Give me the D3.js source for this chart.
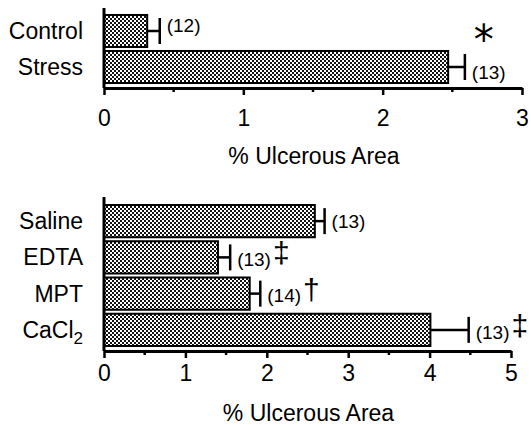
<!DOCTYPE html>
<html>
<head>
<meta charset="utf-8">
<script src="https://cdn.jsdelivr.net/npm/d3@7"></script>
<style>
  body { margin: 0; background: #fff; }
  svg { display: block; font-family: "Liberation Sans", Arial, sans-serif; }
</style>
</head>
<body>
<svg id="chart" width="531" height="425"></svg>
<script>
// top panel
var topCats = ['Control', 'Stress'];
var topMeans = [0.31, 2.47];
var topUpper = [0.40, 2.59];
var topN = ['(12)', '(13)'];
var topSig = ['', '*'];
var topTicks = [0, 1, 2, 3];

// bottom panel
var botCats = ['Saline', 'EDTA', 'MPT', 'CaCl2'];
var botMeans = [2.59, 1.40, 1.79, 4.01];
var botUpper = [2.71, 1.55, 1.92, 4.48];
var botN = ['(13)', '(13)', '(14)', '(13)'];
var botSig = ['', '\u2021', '\u2020', '\u2021'];
var botTicks = [0, 1, 2, 3, 4, 5];

var svg = d3.select('#chart');

// checker fill
var pat = svg.append('defs').append('pattern')
  .attr('id', 'checks')
  .attr('patternUnits', 'userSpaceOnUse')
  .attr('width', 4).attr('height', 4);
pat.append('rect').attr('width', 4).attr('height', 4).attr('fill', '#fff');
pat.append('rect').attr('width', 2).attr('height', 2).attr('fill', '#111');
pat.append('rect').attr('x', 2).attr('y', 2).attr('width', 2).attr('height', 2).attr('fill', '#111');

function panel(opt) {
  var x = d3.scaleLinear().domain(opt.domain).range([104, opt.right]);
  var y = d3.scaleBand().domain(opt.cats).range(opt.yRange)
    .paddingInner(0.11).paddingOuter(0.055);
  var g = svg.append('g');

  // bars
  g.selectAll('rect.bar').data(opt.cats).enter().append('rect')
    .attr('class', 'bar')
    .attr('x', x(0))
    .attr('y', (d) => y(d))
    .attr('width', (d, i) => x(opt.means[i]) - x(0))
    .attr('height', y.bandwidth())
    .attr('fill', 'url(#checks)')
    .attr('stroke', '#000')
    .attr('stroke-width', 2);

  // error bars + n + significance marks
  opt.cats.forEach((c, i) => {
    var cy = y(c) + y.bandwidth() / 2;
    g.append('line')
      .attr('x1', x(opt.means[i])).attr('x2', x(opt.upper[i]))
      .attr('y1', cy).attr('y2', cy)
      .attr('stroke', '#000').attr('stroke-width', 2.5);
    g.append('line')
      .attr('x1', x(opt.upper[i])).attr('x2', x(opt.upper[i]))
      .attr('y1', cy - 13).attr('y2', cy + 13)
      .attr('stroke', '#000').attr('stroke-width', 2.5);

    var shift = 0;
    if (opt.sig[i] == '*') shift = 5;
    else if (i == 0 && opt.top) shift = -6;
    else if (opt.sig[i] != '') shift = 2;

    var nText = g.append('text')
      .attr('x', x(opt.upper[i]) + 7)
      .attr('y', cy + shift)
      .attr('dy', '0.35em')
      .attr('font-size', 19)
      .text(opt.n[i]);

    if (opt.sig[i] == '*') {
      g.append('text')
        .attr('x', x(opt.upper[i]) + 19)
        .attr('y', cy - 13)
        .attr('text-anchor', 'middle')
        .attr('font-family', 'DejaVu Sans')
        .attr('font-size', 40)
        .text('*');
    } else if (opt.sig[i] != '') {
      var w = nText.node().getComputedTextLength();
      g.append('text')
        .attr('x', x(opt.upper[i]) + 7 + w + 2)
        .attr('y', cy - 2)
        .attr('dy', '0.27em')
        .attr('font-size', 30)
        .text(opt.sig[i]);
    }
  });

  // category labels
  opt.cats.forEach((c) => {
    var t = g.append('text')
      .attr('x', 83)
      .attr('y', y(c) + y.bandwidth() / 2)
      .attr('dy', '0.35em')
      .attr('text-anchor', 'end')
      .attr('font-size', 23);
    if (c == 'CaCl2') {
      t.append('tspan').text('CaCl');
      t.append('tspan').attr('font-size', 17).attr('dy', 6).text('2');
    } else {
      t.text(c);
    }
  });

  // axes
  var base = opt.yRange[1] + 3;
  g.append('line')
    .attr('x1', x(0)).attr('x2', x(0))
    .attr('y1', opt.axisTop).attr('y2', base)
    .attr('stroke', '#000').attr('stroke-width', 3);

  var axis = d3.axisBottom(x).tickValues(opt.ticks).tickFormat(d3.format('d'))
    .tickSize(7).tickSizeOuter(0).tickPadding(opt.pad);
  var ax = g.append('g').attr('transform', `translate(0,${base})`).call(axis);
  ax.select('.domain').attr('stroke-width', 3);
  ax.selectAll('.tick line').attr('stroke-width', 2.5);
  ax.selectAll('.tick text').attr('font-size', 23).attr('font-family', '"Liberation Sans", Arial, sans-serif');

  var minor = d3.range(opt.domain[0] + 0.5, opt.domain[1], 1);
  ax.selectAll('line.minor').data(minor).enter().append('line')
    .attr('class', 'minor')
    .attr('x1', (d) => x(d)).attr('x2', (d) => x(d))
    .attr('y1', 0).attr('y2', 4)
    .attr('stroke', '#000').attr('stroke-width', 2.5);

  g.append('text')
    .attr('x', (x(0) + opt.right) / 2 + 1)
    .attr('y', opt.titleY)
    .attr('text-anchor', 'middle')
    .attr('font-size', 23)
    .text('% Ulcerous Area');
}

panel({
  cats: topCats, means: topMeans, upper: topUpper, n: topN, sig: topSig,
  ticks: topTicks, domain: [0, 3], right: 522, yRange: [13, 85],
  axisTop: 8, titleY: 164, pad: 15, top: true
});

panel({
  cats: botCats, means: botMeans, upper: botUpper, n: botN, sig: botSig,
  ticks: botTicks, domain: [0, 5], right: 511, yRange: [203, 348],
  axisTop: 197, titleY: 421, pad: 7, top: false
});
</script>
</body>
</html>
